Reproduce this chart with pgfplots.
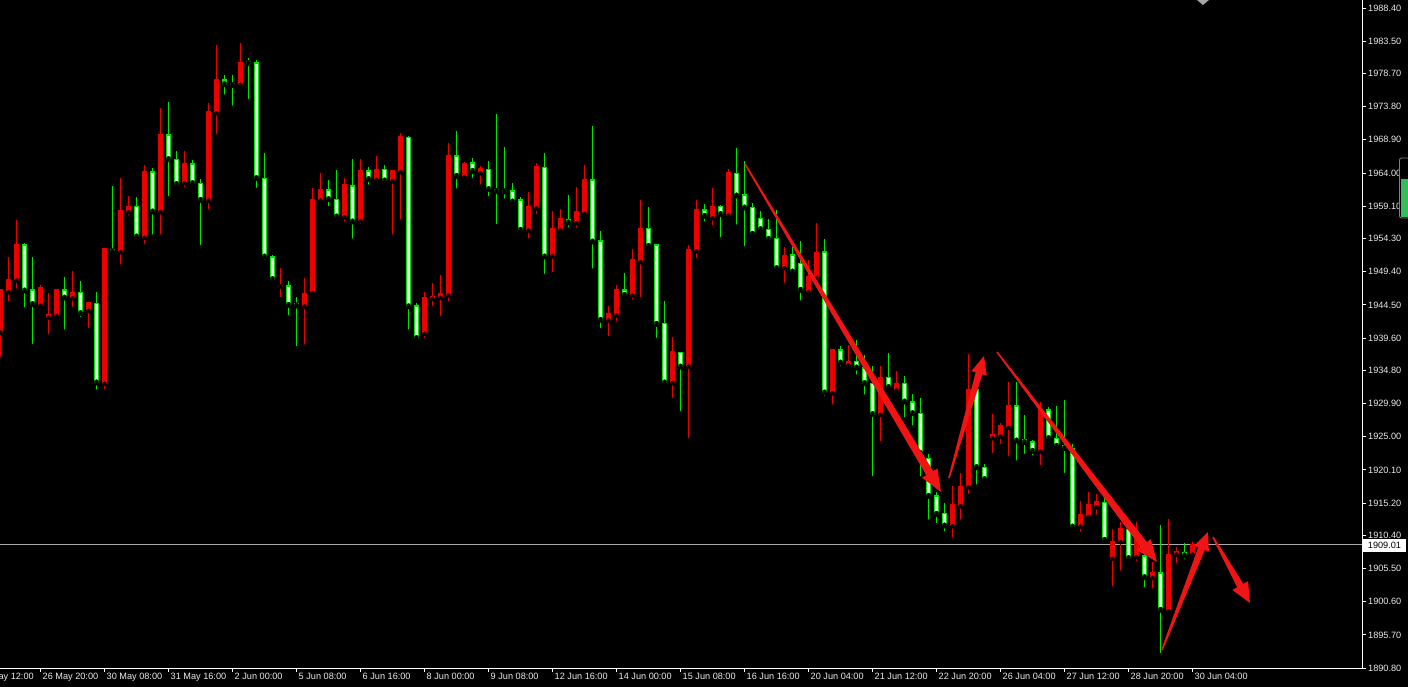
\documentclass[border=0pt]{standalone}
\usepackage{pgfplots}
\pgfplotsset{compat=1.18}
\usepackage{pgfplotstable}
\usepackage{fontspec}
\setmainfont{Liberation Sans}
\usetikzlibrary{calc}
\definecolor{bullred}{RGB}{235,0,0}
\definecolor{beargreen}{RGB}{0,230,0}
\definecolor{bearfill}{RGB}{235,255,235}
\definecolor{arrowred}{RGB}{240,20,20}
\definecolor{pline}{RGB}{170,170,170}
\definecolor{labelgrey}{RGB}{235,235,235}
\definecolor{sidegreen}{RGB}{50,190,90}

\pgfplotstableread{
k o h l c
0 1940.48 1946.69 1936.49 1946.69
1 1946.44 1951.62 1944.73 1948.27
2 1948.17 1957.05 1946.59 1953.35
5 1944.48 1947.43 1944.14 1947.09
6 1942.70 1946.20 1939.89 1943.00
7 1942.90 1946.80 1942.36 1946.69
9 1945.55 1949.50 1943.89 1946.35
11 1943.70 1944.88 1940.78 1944.77
13 1932.90 1952.80 1931.76 1952.76
15 1952.36 1963.30 1950.14 1958.38
16 1958.28 1960.59 1957.39 1959.11
18 1954.49 1965.18 1953.20 1964.19
20 1958.28 1973.56 1954.58 1969.62
23 1962.56 1967.25 1961.63 1965.33
26 1960.00 1974.30 1958.28 1973.06
27 1972.91 1982.93 1969.47 1977.85
30 1977.11 1983.27 1976.67 1980.31
35 1947.29 1949.99 1945.32 1947.39
38 1944.33 1948.42 1938.31 1946.20
39 1946.30 1961.73 1946.10 1960.00
40 1960.00 1963.95 1959.75 1961.48
43 1957.54 1963.21 1956.56 1962.22
45 1956.94 1966.02 1956.16 1964.34
47 1963.07 1966.51 1962.37 1964.55
49 1962.86 1964.44 1954.58 1964.29
50 1964.19 1969.87 1956.80 1969.37
53 1940.29 1946.44 1939.30 1945.62
54 1945.47 1947.69 1943.99 1945.70
55 1945.62 1948.91 1942.51 1946.11
56 1945.96 1968.39 1944.73 1966.51
58 1963.45 1965.67 1962.71 1965.43
60 1964.04 1965.03 1961.97 1964.59
66 1955.57 1961.23 1953.99 1958.97
67 1958.82 1965.43 1957.64 1964.93
69 1951.77 1958.42 1949.06 1955.72
70 1955.57 1958.63 1955.32 1957.30
72 1956.65 1961.88 1955.57 1958.23
73 1958.04 1965.18 1957.93 1962.96
76 1942.26 1944.33 1939.55 1943.25
77 1943.00 1947.43 1941.77 1946.69
79 1945.96 1952.71 1944.97 1951.13
80 1950.88 1960.00 1945.32 1955.72
84 1932.99 1939.79 1930.43 1937.57
86 1935.45 1953.35 1924.51 1952.61
87 1952.51 1960.00 1951.13 1958.53
89 1957.39 1961.73 1955.97 1959.11
91 1957.79 1964.55 1957.05 1964.04
98 1949.99 1953.01 1947.43 1951.72
101 1946.44 1951.13 1945.96 1948.66
102 1948.47 1956.56 1948.17 1952.27
104 1931.51 1937.90 1929.44 1937.82
106 1935.60 1938.56 1935.50 1936.19
110 1928.32 1935.45 1924.02 1933.79
112 1931.91 1934.72 1931.27 1932.90
119 1911.84 1917.71 1909.83 1914.90
120 1914.80 1919.68 1912.43 1917.61
121 1917.61 1937.23 1916.23 1931.91
124 1924.85 1928.36 1922.29 1925.25
125 1925.11 1926.98 1923.62 1926.58
126 1926.39 1933.14 1921.81 1929.54
130 1922.89 1930.18 1920.48 1929.05
135 1911.80 1915.49 1910.61 1913.42
136 1913.17 1916.87 1913.00 1914.90
137 1914.65 1916.53 1913.17 1915.39
139 1907.02 1911.31 1902.58 1909.47
140 1909.47 1912.43 1904.89 1911.45
142 1907.26 1912.43 1906.28 1909.83
144 1904.21 1906.52 1902.23 1904.89
146 1899.27 1912.79 1899.12 1907.65
147 1907.65 1908.73 1906.03 1907.99
149 1907.65 1909.47 1907.36 1908.99
}\bull

\pgfplotstableread{
k o h l c
3 1953.35 1953.69 1943.84 1946.59
4 1946.69 1951.62 1938.41 1944.58
8 1946.69 1948.66 1940.53 1945.55
10 1946.35 1948.02 1942.41 1943.25
12 1944.73 1946.35 1931.66 1932.99
14 1952.72 1962.07 1952.12 1952.36
17 1959.11 1960.40 1954.43 1954.58
19 1964.19 1964.69 1954.58 1958.28
21 1969.62 1974.54 1960.25 1966.02
22 1966.02 1967.30 1961.97 1962.33
24 1965.33 1965.92 1962.22 1962.47
25 1962.47 1963.07 1953.01 1960.00
28 1977.75 1978.49 1975.28 1977.11
29 1977.16 1978.49 1973.65 1976.97
31 1980.46 1980.96 1974.64 1980.22
32 1980.31 1980.71 1961.48 1963.21
33 1963.21 1966.91 1950.88 1951.62
34 1951.62 1951.87 1947.69 1948.27
36 1947.29 1948.07 1942.66 1944.48
37 1944.63 1945.70 1938.07 1944.38
41 1961.48 1962.96 1958.78 1960.10
42 1960.10 1964.44 1957.40 1957.54
44 1962.07 1966.02 1953.99 1956.80
46 1964.29 1964.93 1961.97 1963.07
48 1964.55 1965.18 1962.37 1962.86
51 1969.28 1969.40 1940.53 1944.25
52 1944.33 1944.73 1939.30 1939.55
57 1966.51 1970.25 1961.38 1963.55
59 1965.52 1966.17 1962.96 1964.29
61 1964.55 1965.77 1960.25 1961.59
62 1961.59 1972.72 1956.16 1961.29
63 1961.38 1967.89 1959.90 1961.23
64 1961.34 1962.47 1959.26 1959.75
65 1960.00 1960.40 1955.17 1955.57
68 1964.84 1966.91 1948.77 1951.62
71 1957.15 1960.74 1955.67 1956.65
74 1962.96 1970.95 1949.55 1953.84
75 1953.94 1955.47 1940.78 1942.26
78 1946.69 1949.25 1945.70 1945.96
81 1955.82 1959.01 1953.01 1953.20
82 1953.35 1953.50 1939.30 1941.67
83 1941.77 1945.11 1932.50 1932.99
85 1937.48 1937.57 1928.46 1935.35
88 1958.53 1959.41 1956.53 1957.64
90 1959.11 1959.26 1954.19 1957.89
92 1963.95 1967.65 1956.06 1960.64
93 1960.74 1965.82 1952.86 1958.87
94 1958.92 1959.60 1954.90 1954.98
95 1957.30 1958.42 1955.17 1955.67
96 1955.67 1957.15 1953.50 1954.24
97 1954.34 1958.53 1949.80 1949.90
99 1951.87 1953.01 1949.16 1949.40
100 1950.64 1953.99 1944.82 1946.69
103 1952.36 1954.19 1930.68 1931.51
105 1937.82 1938.41 1935.12 1935.94
107 1936.19 1939.30 1933.88 1935.21
108 1935.21 1937.08 1930.92 1932.90
109 1932.90 1935.45 1918.85 1928.32
111 1933.79 1937.42 1931.81 1932.31
113 1932.90 1933.98 1927.57 1930.18
114 1930.18 1931.32 1926.36 1928.46
115 1928.46 1930.68 1918.85 1922.55
116 1921.81 1922.44 1912.43 1916.23
117 1916.23 1916.87 1911.94 1913.57
118 1913.67 1915.15 1910.72 1911.84
122 1931.91 1932.01 1917.61 1920.48
123 1920.48 1920.96 1918.50 1918.70
127 1929.54 1933.14 1921.16 1924.41
128 1924.51 1928.21 1922.15 1924.17
129 1924.22 1924.51 1921.96 1922.89
131 1928.95 1929.35 1924.51 1924.77
132 1924.77 1929.54 1923.43 1923.62
133 1923.67 1930.43 1919.34 1923.28
134 1923.28 1923.92 1911.31 1911.69
138 1915.30 1916.04 1909.60 1909.73
141 1911.31 1911.40 1906.52 1907.02
143 1907.36 1908.25 1902.44 1904.21
145 1904.89 1911.94 1892.72 1899.37
148 1907.85 1909.33 1906.57 1907.41
}\bear

% tapered hand-drawn arrow: start, tip, start half-width, shaft half-width, head length, head half-width
\newcommand{\taper}[6]{%
  \coordinate (S) at #1; \coordinate (T) at #2;
  \coordinate (B) at ($(T)!#5!(S)$);
  \fill[arrowred] ($(S)!#3!90:(T)$) -- ($(B)!#4!-90:(S)$) -- ($(B)!#6!-90:(S)$) -- (T)
     -- ($(B)!#6!90:(S)$) -- ($(B)!#4!90:(S)$) -- ($(S)!#3!-90:(T)$) -- cycle;}

\pgfplotsset{candle/.style 2 args={only marks, mark=none,
  error bars/.cd, y dir=plus, y explicit, error mark=none,
  error bar style={draw=#1, line width=#2}}}

\begin{document}
\begin{tikzpicture}
\useasboundingbox (0,0) rectangle (1408bp,687bp);
\fill[black] (0,0) rectangle (1408bp,687bp);
\begin{axis}[
  at={(0bp,19bp)}, anchor=south west,
  scale only axis, width=1362bp, height=668bp,
  xmin=-0.0625, xmax=170.1875, ymin=1890.80, ymax=1989.58,
  axis x line*=bottom, axis y line*=right,
  axis line style={white, line width=0.8bp},
  every tick/.style={white, line width=0.8bp},
  tick align=outside, major tick length=4bp,
  xtick={5,13,...,149},
  xticklabels={26 May 20:00,30 May 08:00,31 May 16:00,2 Jun 00:00,5 Jun 08:00,6 Jun 16:00,8 Jun 00:00,9 Jun 08:00,12 Jun 16:00,14 Jun 00:00,15 Jun 08:00,16 Jun 16:00,20 Jun 04:00,21 Jun 12:00,22 Jun 20:00,26 Jun 04:00,27 Jun 12:00,28 Jun 20:00,30 Jun 04:00},
  ytick={1890.8,1895.7,1900.6,1905.5,1910.4,1915.2,1920.1,1925.0,1929.9,1934.8,1939.6,1944.5,1949.4,1954.3,1959.1,1964.0,1968.9,1973.8,1978.7,1983.5,1988.4},
  yticklabels={1890.80,1895.70,1900.60,1905.50,1910.40,1915.20,1920.10,1925.00,1929.90,1934.80,1939.60,1944.50,1949.40,1954.30,1959.10,1964.00,1968.90,1973.80,1978.70,1983.50,1988.40},
  ticklabel style={font=\fontsize{9.2}{10}\selectfont, text=labelgrey, inner sep=0pt},
  xticklabel style={anchor=north west, xshift=2bp, yshift=-1bp},
  yticklabel style={anchor=west, xshift=2bp},
]
% bid line
\addplot[pline, line width=0.8bp, mark=none] coordinates {(-1,1909.01) (172,1909.01)};
% wicks
\addplot[candle={bullred}{1bp}]
  table[x=k, y=l, y error expr=\thisrow{h}-\thisrow{l}] {\bull};
\addplot[candle={beargreen}{1bp}]
  table[x=k, y=l, y error expr=\thisrow{h}-\thisrow{l}] {\bear};
% bodies
\addplot[candle={bullred}{5bp}]
  table[x=k, y expr={min(\thisrow{o},\thisrow{c})-0.08}, y error expr=abs(\thisrow{o}-\thisrow{c})+0.16] {\bull};
\addplot[candle={beargreen}{5bp}]
  table[x=k, y expr={min(\thisrow{o},\thisrow{c})-0.08}, y error expr=abs(\thisrow{o}-\thisrow{c})+0.16] {\bear};
\addplot[candle={bearfill}{3bp}]
  table[x=k, y expr={min(\thisrow{o},\thisrow{c})+0.15}, y error expr={max(abs(\thisrow{o}-\thisrow{c})-0.3,0)}] {\bear};
\end{axis}
\begin{scope}[yshift=687bp, x=1bp, y=-1bp]
  % hand-drawn arrows
  \taper{(745,164)}{(941,492)}{0.8bp}{4bp}{22bp}{9bp}
  \taper{(949,478)}{(984,356)}{0.8bp}{3.5bp}{18bp}{8bp}
  \taper{(997,352)}{(1157,562)}{0.8bp}{4bp}{22bp}{9bp}
  \taper{(1162,650)}{(1208,532)}{0.8bp}{3.5bp}{18bp}{8bp}
  \taper{(1213,537)}{(1250,603)}{0.8bp}{3.5bp}{20bp}{9bp}
  % current price box
  \fill[white] (1363,539) rectangle (1406,552);
  \node[text=black, font=\fontsize{9.2}{10}\selectfont, inner sep=0pt] at (1384.5,545.5) {1909.01};
  % cut-off first time label
  \draw[white, line width=0.8bp] (-24,668) -- (-24,672);
  \node[anchor=north west, text=labelgrey, font=\fontsize{9.2}{10}\selectfont, inner sep=0pt] at (-22,673) {25 May 12:00};
  % chart shift marker
  \fill[gray!70] (1197,0) -- (1209,0) -- (1203,5) -- cycle;
  % side scroll bar
  \draw[gray, line width=0.8bp, rounded corners=2bp, fill=black] (1399.5,158) rectangle (1414,218);
  \fill[sidegreen] (1400.5,179) rectangle (1414,217);
\end{scope}
\end{tikzpicture}
\end{document}
